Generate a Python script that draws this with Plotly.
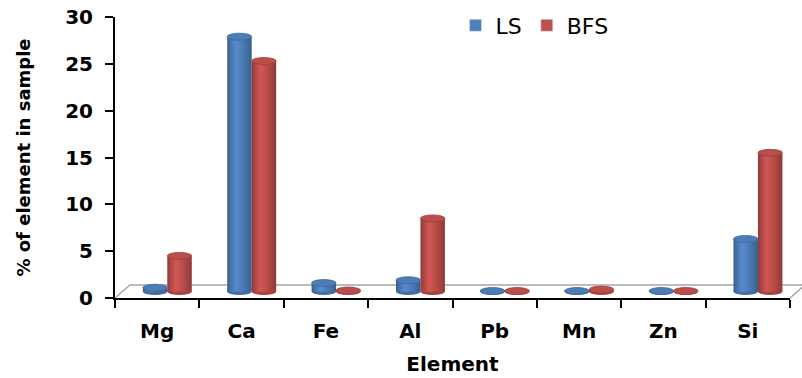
import plotly.graph_objects as go
import numpy as np

elements = ["Mg", "Ca", "Fe", "Al", "Pb", "Mn", "Zn", "Si"]
ls_values = [0.4, 27.2, 0.9, 1.2, 0.05, 0.05, 0.05, 5.6]
bfs_values = [3.8, 24.6, 0.1, 7.8, 0.05, 0.2, 0.05, 14.8]
series_names = ["LS", "BFS"]
y_ticks = [0, 5, 10, 15, 20, 25, 30]

# styling
BASE = 0.7          # depth offset of bar bottoms (visual floor middle)
CAP_H = 0.37        # half-height of cylinder cap ellipse in y units
BAR_W = 0.29
OFFS = [-0.17, 0.12]
COLORS = [(79, 129, 189), (192, 80, 77)]
N_LAYERS = 12
HL = 0.36           # highlight position across the cylinder

def shade(rgb, f):
    return "rgb(%d,%d,%d)" % tuple(min(255, int(round(c * f))) for c in rgb)

fig = go.Figure()
shapes = []

# floor (3D plane outline)
dx, dy = 15 / 675, 13 / 281
shapes.append(dict(type="path", xref="paper", yref="paper",
                   path=f"M0,0 L{dx},{dy} L{1+dx},{dy} L1,0",
                   line=dict(color="#a6a6a6", width=1.5), layer="below"))

for s, (name, vals) in enumerate(zip(series_names, [ls_values, bfs_values])):
    rgb = COLORS[s]
    # bottom caps
    for i, v in enumerate(vals):
        shapes.append(dict(type="circle", xref="x", yref="y",
                           x0=i + OFFS[s], x1=i + OFFS[s] + BAR_W,
                           y0=BASE - CAP_H, y1=BASE + CAP_H,
                           fillcolor=shade(rgb, 0.85), line=dict(width=0),
                           layer="below"))
    # nested layers: full-width dark, narrowing toward the highlight, lighter
    for k in range(N_LAYERS):
        a = 1 - k / N_LAYERS
        left = HL * (1 - a)
        right = HL + (1 - HL) * a
        f = 0.74 + 0.34 * (k / (N_LAYERS - 1)) ** 0.8
        fig.add_trace(go.Bar(
            x=elements, y=vals, base=BASE,
            offset=OFFS[s] + left * BAR_W, width=(right - left) * BAR_W,
            marker=dict(color=shade(rgb, f), line=dict(width=0)),
            name=name, legendgroup=name, showlegend=False,
            hoverinfo="skip" if k else "x+y+name",
        ))
    # legend entry
    fig.add_trace(go.Bar(x=[elements[0]], y=[None], name=name,
                         marker=dict(color=shade(rgb, 1.0)),
                         legendgroup=name, showlegend=True, hoverinfo="skip"))
    # top caps
    for i, v in enumerate(vals):
        top = BASE + v
        shapes.append(dict(type="circle", xref="x", yref="y",
                           x0=i + OFFS[s], x1=i + OFFS[s] + BAR_W,
                           y0=top - CAP_H, y1=top + CAP_H,
                           fillcolor=shade(rgb, 0.97),
                           line=dict(color=shade(rgb, 0.8), width=0.8),
                           layer="above"))

FONT = "DejaVu Sans"
fig.update_layout(
    width=802, height=378,
    margin=dict(l=115, r=12, t=17, b=80, autoexpand=False),
    paper_bgcolor="white", plot_bgcolor="white",
    barmode="overlay",
    shapes=shapes,
    showlegend=True,
    legend=dict(orientation="h", xref="container", yref="container",
                x=0.568, y=0.988, xanchor="left", yanchor="top",
                font=dict(family=FONT, size=22, color="black"),
                itemwidth=30, tracegroupgap=0, bgcolor="rgba(0,0,0,0)"),
    xaxis=dict(type="category", categoryorder="array", categoryarray=elements,
               range=[-0.5, 7.5], tickson="boundaries", ticks="outside",
               ticklen=8, tickwidth=2, tickcolor="black",
               showline=True, linecolor="black", linewidth=2,
               showgrid=False, zeroline=False,
               tickfont=dict(family=FONT, size=20, color="black", weight="bold"),
               ticklabelstandoff=14,
               title=dict(text="Element", standoff=15,
                          font=dict(family=FONT, size=20, color="black", weight="bold"))),
    yaxis=dict(range=[0, 30], tickvals=y_ticks, ticks="outside",
               ticklen=8, tickwidth=2, tickcolor="black",
               showline=True, linecolor="black", linewidth=2,
               showgrid=False, zeroline=False,
               tickfont=dict(family=FONT, size=20, color="black", weight="bold"),
               ticklabelstandoff=8,
               title=dict(text="% of element in sample", standoff=30,
                          font=dict(family=FONT, size=18, color="black", weight="bold"))),
)

fig.write_html("out.html")
